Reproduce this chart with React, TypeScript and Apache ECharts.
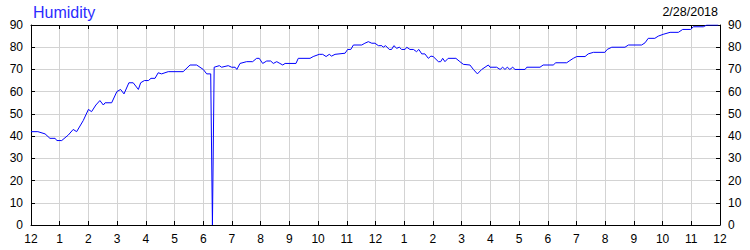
import React, { useEffect, useRef } from "react";
import * as echarts from "echarts";

const title = "Humidity";
const dateLabel = "2/28/2018";

// hours since midnight
const hours = [
  0, 0.24, 0.49, 0.66, 0.84, 0.9, 1.07, 1.3, 1.47, 1.59, 1.82, 2.0, 2.11, 2.26, 2.4, 2.52, 2.58, 2.81,
  2.99, 3.12, 3.24, 3.41, 3.56, 3.74, 3.82, 3.95, 4.09, 4.18, 4.32, 4.43, 4.55, 4.78, 5.3, 5.54, 5.77,
  6.0, 6.12, 6.26, 6.32, 6.38, 6.56, 6.64, 6.87, 6.99, 7.11, 7.17, 7.28, 7.51, 7.72, 7.86, 7.95, 8.07,
  8.21, 8.35, 8.44, 8.56, 8.67, 8.77, 8.85, 9.23, 9.31, 9.72, 9.83, 10.04, 10.16, 10.28, 10.39, 10.47,
  10.59, 10.94, 11.03, 11.14, 11.23, 11.52, 11.63, 11.75, 11.87, 11.98, 12.1, 12.22, 12.27, 12.35,
  12.48, 12.56, 12.64, 12.74, 12.83, 12.91, 13.03, 13.09, 13.2, 13.32, 13.43, 13.51, 13.61, 13.72,
  13.84, 13.93, 14.01, 14.19, 14.27, 14.34, 14.42, 14.53, 14.8, 14.94, 15.06, 15.29, 15.41, 15.55,
  15.7, 15.93, 15.99, 16.22, 16.34, 16.43, 16.51, 16.59, 16.68, 16.78, 16.86, 17.21, 17.27, 17.73,
  17.84, 18.19, 18.28, 18.66, 18.77, 18.89, 19.01, 19.3, 19.41, 19.59, 19.99, 20.07, 20.23, 20.69,
  20.81, 21.27, 21.39, 21.5, 21.73, 21.85, 22.02, 22.26, 22.55, 22.7, 22.98, 23.07, 23.42, 23.54, 23.94,
];

// humidity (%)
const humidity = [
  42, 42, 41, 39, 39, 38, 38, 40.5, 43, 42, 47, 52, 51, 54, 56, 54, 55, 55,
  60, 61, 59, 64, 64, 61, 64, 65, 65, 66, 66, 68.5, 68, 69, 69, 72, 72,
  70, 68, 68, 0, 71, 71.7, 71, 71.7, 71, 71, 70, 72.7, 73.5, 73.5, 75, 75, 72.7,
  73.8, 73.8, 72.7, 73.5, 72.7, 72, 72.7, 72.7, 75, 75, 75.8, 76.8, 76.8, 75.8, 76.8, 76,
  76.8, 77.3, 79, 79, 81, 81, 81.8, 82.5, 81.8, 81.8, 80.7, 80.7, 80, 80.7,
  79, 79, 80.7, 79.5, 80, 79, 79, 80, 79, 79, 78, 79, 77, 77,
  75, 76, 75.8, 73.5, 73.5, 75, 73.5, 75, 75, 73.5, 72.3, 72, 70, 68,
  70, 72, 71, 71, 70, 71, 70, 71, 70, 71, 70, 70, 71, 71,
  72, 72, 73, 73, 74, 75, 75.8, 75.8, 77, 77.7, 77.7, 79, 80, 80,
  81, 81, 82, 84, 84, 85, 85.8, 86.7, 86.7, 88, 88, 89.2, 89.2, 90, 90,
];

const xTicks = [0, 24];
const yTicks = [0, 90];

const hourLabel = (v: number) => {
  const h = Math.round(v) % 12;
  return String(h === 0 ? 12 : h);
};

export default function App() {
  const ref = useRef<HTMLDivElement>(null);
  useEffect(() => {
    if (!ref.current) return;
    const chart = echarts.init(ref.current, null, { renderer: "svg" });
    const font = "'Liberation Sans', Arial, sans-serif";
    const labelStyle = { color: "#000", fontSize: 12, fontFamily: font };
    const data = hours.map((h, i) => [h, humidity[i]]);
    const baseX = {
      type: "value" as const,
      min: xTicks[0],
      max: xTicks[1],
      interval: 1,
      axisLine: { show: true, onZero: false, lineStyle: { color: "#000", width: 1 } },
      axisTick: { show: true, inside: true, length: 4, lineStyle: { color: "#000" } },
    };
    const baseY = {
      type: "value" as const,
      min: yTicks[0],
      max: yTicks[1],
      interval: 10,
      axisLine: { show: true, onZero: false, lineStyle: { color: "#000", width: 1 } },
      axisTick: { show: true, inside: true, length: 4, lineStyle: { color: "#000" } },
    };
    chart.setOption({
      animation: false,
      backgroundColor: "#fff",
      grid: { left: 31, right: 30, top: 25, bottom: 25, containLabel: false },
      title: [
        {
          text: title,
          left: 33,
          top: 4,
          padding: 0,
          textStyle: { color: "#2b2bff", fontSize: 16, fontWeight: "normal", fontFamily: font },
        },
        {
          text: dateLabel,
          right: 32,
          top: 5,
          padding: 0,
          textStyle: { color: "#000", fontSize: 12.5, fontWeight: "normal", fontFamily: font },
        },
      ],
      xAxis: [
        {
          ...baseX,
          position: "bottom",
          axisLabel: { ...labelStyle, margin: 8, formatter: hourLabel },
          splitLine: { show: true, lineStyle: { color: "#d3d3d3", width: 1 } },
        },
        {
          ...baseX,
          position: "top",
          axisLabel: { show: false },
          splitLine: { show: false },
        },
      ],
      yAxis: [
        {
          ...baseY,
          position: "left",
          axisLabel: { ...labelStyle, margin: 8 },
          splitLine: { show: true, lineStyle: { color: "#d3d3d3", width: 1 } },
        },
        {
          ...baseY,
          position: "right",
          axisLabel: { ...labelStyle, margin: 8 },
          splitLine: { show: false },
        },
      ],
      series: [
        {
          type: "line",
          data,
          showSymbol: false,
          symbol: "none",
          lineStyle: { color: "#0000ff", width: 1 },
          itemStyle: { color: "#0000ff" },
        },
      ],
    });
    return () => chart.dispose();
  }, []);
  return (
    <div
      ref={ref}
      style={{ position: "fixed", left: 0, top: 0, width: 750, height: 250, background: "#fff" }}
    />
  );
}
